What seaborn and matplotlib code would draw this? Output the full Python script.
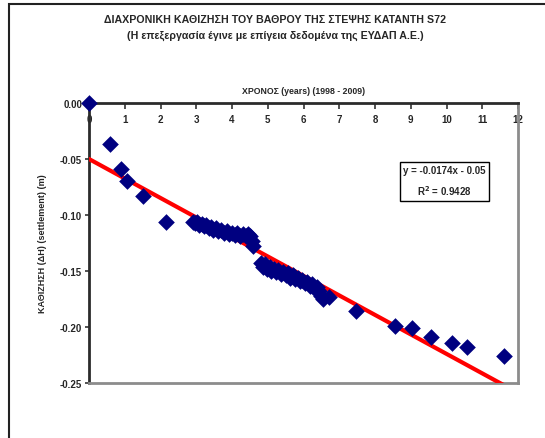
import matplotlib
matplotlib.use("Agg")
import matplotlib.pyplot as plt
import matplotlib.patches as mpatches
import numpy as np
import pandas as pd
import seaborn as sns

# Settlement survey: elapsed time (years since 1998) and settlement ΔH (m)
years = [
    0.00, 0.59, 0.90, 1.05, 1.51, 2.15,
    2.90, 2.97, 3.03, 3.08, 3.15, 3.22, 3.28, 3.35, 3.42, 3.48, 3.55, 3.62,
    3.70, 3.78, 3.85, 3.92, 4.00, 4.08, 4.15, 4.22, 4.30, 4.38, 4.45, 4.50,
    4.55, 4.60,
    4.80, 4.86, 4.92, 4.98, 5.05, 5.10, 5.17, 5.23, 5.30, 5.36, 5.43, 5.50,
    5.57, 5.63, 5.70, 5.77, 5.84, 5.90, 5.97, 6.03, 6.10, 6.17, 6.24, 6.30,
    6.37, 6.42, 6.48, 6.55, 6.70,
    7.47, 8.56, 9.04, 9.57, 10.15, 10.57, 11.61,
]
settlement = [
    0.000, -0.037, -0.059, -0.070, -0.083, -0.106,
    -0.106, -0.107, -0.106, -0.109, -0.108, -0.110, -0.109, -0.112, -0.111,
    -0.113, -0.112, -0.114, -0.113, -0.116, -0.114, -0.117, -0.116, -0.118,
    -0.116, -0.119, -0.117, -0.119, -0.117, -0.119, -0.123, -0.128,
    -0.143, -0.146, -0.144, -0.148, -0.146, -0.150, -0.148, -0.151, -0.149,
    -0.153, -0.151, -0.154, -0.152, -0.156, -0.154, -0.157, -0.156, -0.159,
    -0.158, -0.161, -0.160, -0.163, -0.162, -0.165, -0.164, -0.168, -0.172,
    -0.175, -0.173,
    -0.186, -0.199, -0.201, -0.209, -0.214, -0.218, -0.226,
]

# Linear trend reported on the chart
slope = -0.0174
intercept = -0.05
r_squared = 0.9428

x_ticks = list(range(0, 13))
y_ticks = [0.00, -0.05, -0.10, -0.15, -0.20, -0.25]
y_tick_labels = ["0.00", "-0.05", "-0.10", "-0.15", "-0.20", "-0.25"]

title_text = ("ΔΙΑΧΡΟΝΙΚΗ ΚΑΘΙΖΗΣΗ ΤΟΥ ΒΑΘΡΟΥ ΤΗΣ ΣΤΕΨΗΣ ΚΑΤΑΝΤΗ S72\n"
              "(Η επεξεργασία έγινε με επίγεια δεδομένα της ΕΥΔΑΠ Α.Ε.)")
x_label = "ΧΡΟΝΟΣ (years) (1998 - 2009)"
y_label = "ΚΑΘΙΖΗΣΗ (ΔΗ) (settlement) (m)"

sns.set_style("white")
plt.rcParams["font.family"] = ["Liberation Sans", "DejaVu Sans"]
plt.rcParams["font.weight"] = "bold"

df = pd.DataFrame({"t": years, "dh": settlement})
trend = pd.DataFrame({"t": [0.0, 12.0]})
trend["dh"] = slope * trend["t"] + intercept

fig = plt.figure(figsize=(5.45, 4.39), dpi=100)
ax = fig.add_axes([89 / 545, 1 - 384 / 439, (518 - 89) / 545, (384 - 104) / 439])

sns.lineplot(data=trend, x="t", y="dh", ax=ax, color="#FF0000",
             linewidth=3.0, zorder=3)
sns.scatterplot(data=df, x="t", y="dh", ax=ax, marker="D", s=72,
                color="#000080", linewidth=0, zorder=4, clip_on=False)

ax.set_xlim(0, 12)
ax.set_ylim(-0.25, 0.0)
ax.set_xticks(x_ticks)
ax.set_yticks(y_ticks)
ax.set_yticklabels(y_tick_labels)

# x axis sits on the zero line at the top, labels just beneath it
ax.xaxis.tick_top()
ax.xaxis.set_label_position("top")
ax.tick_params(axis="x", direction="in", length=4, width=1.2, color="#333333",
               pad=-15, labelsize=7, top=True, bottom=False)
ax.tick_params(axis="y", direction="out", length=3, width=1.2, color="#333333",
               pad=2, labelsize=7, left=True)
for lbl in ax.get_xticklabels() + ax.get_yticklabels():
    lbl.set_fontweight("bold")

ax.set_xlabel(x_label, fontsize=6.3, fontweight="bold", labelpad=7)
ax.set_ylabel(y_label, fontsize=6.5, fontweight="bold", labelpad=9)

for side in ("left", "top"):
    ax.spines[side].set_color("#2b2b2b")
    ax.spines[side].set_linewidth(2.0)
for side in ("right", "bottom"):
    ax.spines[side].set_color("#8c8c8c")
    ax.spines[side].set_linewidth(2.0)
    ax.spines[side].set_visible(True)

eq_text = f"y = {slope}x - {abs(intercept)}\nR$^2$ = {r_squared}"
ax.text(0.829, 0.72, eq_text, transform=ax.transAxes, ha="center", va="center",
        fontsize=7, fontweight="bold", linespacing=1.7,
        bbox=dict(boxstyle="square,pad=0.35", facecolor="white",
                  edgecolor="black", linewidth=1.0))

fig.text(275 / 545, 1 - 28 / 439, title_text, ha="center", va="center",
         fontsize=7.7, fontweight="bold", linespacing=1.6)

# outer chart-area frame
frame = mpatches.Rectangle((9 / 545, -0.2), 1.2, 0.2 + (1 - 5 / 439),
                           transform=fig.transFigure, fill=False,
                           edgecolor="#222222", linewidth=1.5)
fig.patches.append(frame)

fig.savefig("out.png", dpi=100)
